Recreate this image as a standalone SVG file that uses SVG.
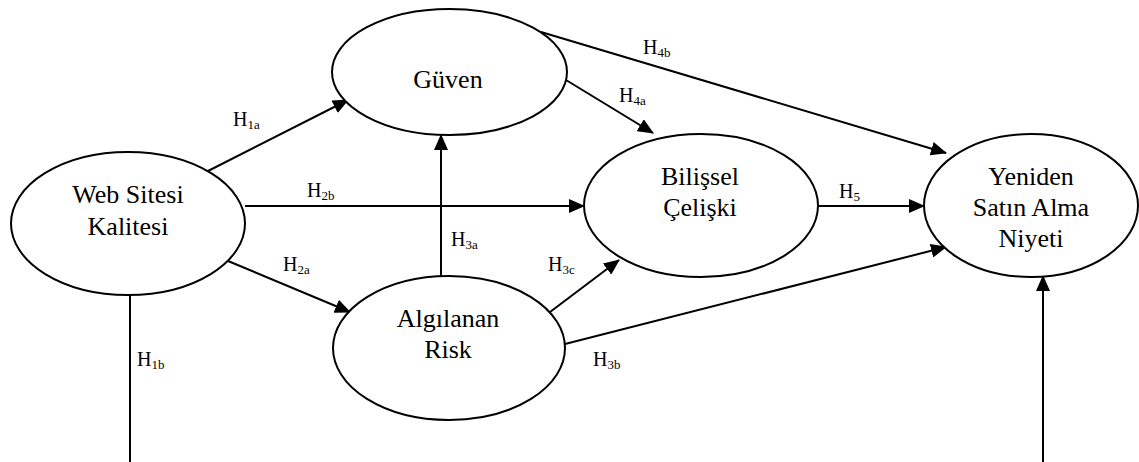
<svg xmlns="http://www.w3.org/2000/svg" width="1139" height="462" viewBox="0 0 1139 462">
<style>
.n{fill:#fff;stroke:#000;stroke-width:2}
.t{font-family:"Liberation Serif","Times New Roman",serif;font-size:26px;fill:#000;text-anchor:middle}
.l{font-family:"Liberation Serif","Times New Roman",serif;font-size:20px;fill:#000}
.s{font-size:13px}
.e{stroke:#000;stroke-width:2;fill:none}
</style>
<defs>
<marker id="a" markerUnits="userSpaceOnUse" markerWidth="16" markerHeight="14" refX="15" refY="7" orient="auto">
<path d="M0,0 L16,7 L0,14 z" fill="#000"/>
</marker>
</defs>
<rect width="1139" height="462" fill="#fff"/>
<g id="connectors">
<line class="e" x1="208" y1="171" x2="348" y2="100" marker-end="url(#a)"/>
<line class="e" x1="245" y1="206" x2="584" y2="206" marker-end="url(#a)"/>
<line class="e" x1="228" y1="261" x2="350" y2="312" marker-end="url(#a)"/>
<line class="e" x1="441" y1="276" x2="441" y2="135" marker-end="url(#a)"/>
<line class="e" x1="550" y1="312" x2="619" y2="260" marker-end="url(#a)"/>
<line class="e" x1="565" y1="344" x2="946" y2="247" marker-end="url(#a)"/>
<line class="e" x1="566" y1="80" x2="653" y2="133" marker-end="url(#a)"/>
<line class="e" x1="541" y1="32" x2="946" y2="153" marker-end="url(#a)"/>
<line class="e" x1="818" y1="206" x2="924" y2="206" marker-end="url(#a)"/>
<line class="e" x1="130" y1="295" x2="130" y2="462"/>
<line class="e" x1="1043" y1="462" x2="1043" y2="276" marker-end="url(#a)"/>
<text class="l" x="233" y="126">H<tspan class="s" dy="3">1a</tspan></text>
<text class="l" x="307" y="197">H<tspan class="s" dy="3">2b</tspan></text>
<text class="l" x="283" y="271">H<tspan class="s" dy="3">2a</tspan></text>
<text class="l" x="451" y="246">H<tspan class="s" dy="3">3a</tspan></text>
<text class="l" x="548" y="271">H<tspan class="s" dy="3">3c</tspan></text>
<text class="l" x="593" y="366">H<tspan class="s" dy="3">3b</tspan></text>
<text class="l" x="619" y="102">H<tspan class="s" dy="3">4a</tspan></text>
<text class="l" x="643" y="54">H<tspan class="s" dy="3">4b</tspan></text>
<text class="l" x="839" y="198">H<tspan class="s" dy="3">5</tspan></text>
<text class="l" x="137" y="366">H<tspan class="s" dy="3">1b</tspan></text>
</g>
<g id="web">
<ellipse class="n" cx="128" cy="223.5" rx="117" ry="71.5"/>
<text class="t" x="128" y="203">Web Sitesi</text>
<text class="t" x="128" y="235">Kalitesi</text>
</g>
<g id="guven">
<ellipse class="n" cx="449.5" cy="72" rx="117.5" ry="63"/>
<text class="t" x="448" y="88">Güven</text>
</g>
<g id="celiski">
<ellipse class="n" cx="701" cy="205.5" rx="117" ry="71.5"/>
<text class="t" x="700" y="185">Bilişsel</text>
<text class="t" x="700" y="216">Çelişki</text>
</g>
<g id="niyet">
<ellipse class="n" cx="1031" cy="205.5" rx="107" ry="71.5"/>
<text class="t" x="1031" y="185">Yeniden</text>
<text class="t" x="1031" y="216">Satın Alma</text>
<text class="t" x="1031" y="247">Niyeti</text>
</g>
<g id="risk">
<ellipse class="n" cx="449" cy="348" rx="116" ry="72"/>
<text class="t" x="448" y="327">Algılanan</text>
<text class="t" x="448" y="358">Risk</text>
</g>
</svg>
